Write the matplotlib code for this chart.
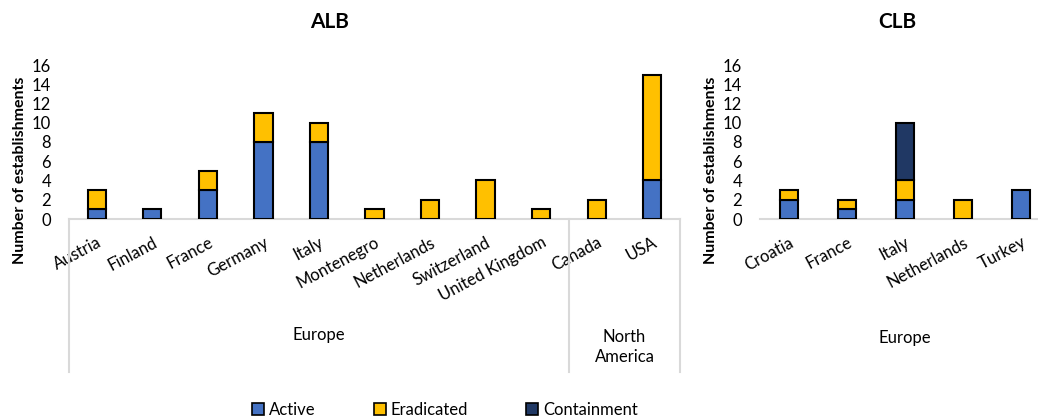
import matplotlib.pyplot as plt
import matplotlib.transforms as mtransforms
import numpy as np

plt.rcParams['font.family'] = ['Lato', 'DejaVu Sans']

# ALB data
alb_countries = ['Austria', 'Finland', 'France', 'Germany', 'Italy', 'Montenegro',
                 'Netherlands', 'Switzerland', 'United Kingdom', 'Canada', 'USA']
alb_active = [1, 1, 3, 8, 8, 0, 0, 0, 0, 0, 4]
alb_eradicated = [2, 0, 2, 3, 2, 1, 2, 4, 1, 2, 11]
alb_containment = [0, 0, 0, 0, 0, 0, 0, 0, 0, 0, 0]

# CLB data
clb_countries = ['Croatia', 'France', 'Italy', 'Netherlands', 'Turkey']
clb_active = [2, 1, 2, 0, 3]
clb_eradicated = [1, 1, 2, 2, 0]
clb_containment = [0, 0, 6, 0, 0]

series_names = ['Active', 'Eradicated', 'Containment']
colors = ['#4472C4', '#FFC000', '#203864']

W, H = 1038, 419
fig = plt.figure(figsize=(W / 100, H / 100), dpi=100)


def px_axes(x0, x1, ytop, ybot):
    return fig.add_axes([x0 / W, 1 - ybot / H, (x1 - x0) / W, (ybot - ytop) / H])


def draw(ax, countries, active, erad, cont, width):
    x = np.arange(len(countries))
    bottom = np.zeros(len(countries))
    for vals, col in zip([active, erad, cont], colors):
        vals = np.array(vals, dtype=float)
        m = vals > 0
        ax.bar(x[m], vals[m], width, bottom=bottom[m], color=col,
               edgecolor='black', linewidth=1.5, zorder=3)
        bottom += vals
    ax.set_xlim(-0.5, len(countries) - 0.5)
    ax.set_ylim(0, 16)
    ax.set_yticks(range(0, 17, 2))
    ax.set_xticks(x)
    ax.set_xticklabels(countries, rotation=28, ha='right', rotation_mode='anchor',
                       fontsize=12)
    ax.tick_params(axis='y', length=0, pad=13, labelsize=12)
    ax.tick_params(axis='x', length=0, pad=11)
    for s in ['left', 'top', 'right']:
        ax.spines[s].set_visible(False)
    ax.spines['bottom'].set_color('#D9D9D9')
    ax.spines['bottom'].set_linewidth(1.5)


ax1 = px_axes(69, 680, 65, 219)
draw(ax1, alb_countries, alb_active, alb_eradicated, alb_containment, 0.33)

ax2 = px_axes(760, 1050, 65, 219)
draw(ax2, clb_countries, clb_active, clb_eradicated, clb_containment, 0.31)

# group separators on ALB
trans = mtransforms.blended_transform_factory(ax1.transData, ax1.transAxes)
for xv in [-0.5, 8.5, 10.5]:
    ax1.plot([xv, xv], [0, -153 / 154], color='#D9D9D9', linewidth=1.5,
             transform=trans, clip_on=False)
ax1.text(4, -0.75, 'Europe', transform=trans, ha='center', va='center', fontsize=12)
ax1.text(9.5, -0.83, 'North\nAmerica', transform=trans, ha='center', va='center',
         fontsize=12, linespacing=1.3)

trans2 = mtransforms.blended_transform_factory(ax2.transData, ax2.transAxes)
ax2.text(2, -0.77, 'Europe', transform=trans2, ha='center', va='center', fontsize=12)

fig.text(330 / W, 1 - 22 / H, 'ALB', ha='center', va='center', fontsize=15,
         fontweight='bold')
fig.text(897 / W, 1 - 22 / H, 'CLB', ha='center', va='center', fontsize=15,
         fontweight='bold')
fig.text(20 / W, 1 - 170 / H, 'Number of establishments', rotation=90, ha='center',
         va='center', fontsize=11.5, fontweight='bold')
fig.text(711 / W, 1 - 170 / H, 'Number of establishments', rotation=90, ha='center',
         va='center', fontsize=11.5, fontweight='bold')

handles = [plt.Rectangle((0, 0), 1, 1, facecolor=c, edgecolor='black', linewidth=1.2)
           for c in colors]
fig.legend(handles, series_names, loc='center', bbox_to_anchor=(445 / W, 1 - 410 / H),
           ncol=3, frameon=False, fontsize=12, handlelength=0.7, handleheight=0.7,
           handletextpad=0.3, columnspacing=3.5)

fig.savefig('out.png', dpi=100)
